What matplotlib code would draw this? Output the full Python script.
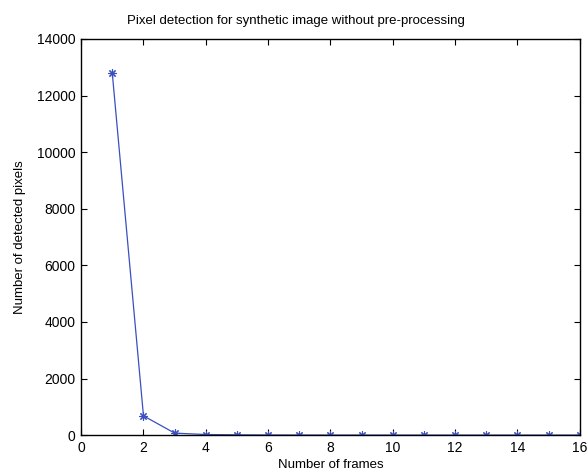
import matplotlib
matplotlib.use("Agg")
import matplotlib.pyplot as plt

frames = list(range(1, 17))
detected = [12780, 680, 70, 20, 10, 5, 3, 2, 2, 1, 1, 1, 1, 1, 1, 1]
x_ticks = [0, 2, 4, 6, 8, 10, 12, 14, 16]
y_ticks = [0, 2000, 4000, 6000, 8000, 10000, 12000, 14000]

plt.rcParams['font.family'] = ['Liberation Sans', 'DejaVu Sans']

fig = plt.figure(figsize=(5.88, 4.75), dpi=100)
ax = fig.add_axes([0.138, 0.084, 0.848, 0.834])

ax.plot(frames, detected, color='#3a4fc0', linewidth=0.9,
        marker=(8, 2, 0), markersize=6, markeredgewidth=0.8)

ax.set_xlim(0, 16)
ax.set_ylim(0, 14000)
ax.set_xticks(x_ticks)
ax.set_yticks(y_ticks)
ax.tick_params(direction='in', length=4, top=True, right=True, labelsize=10, pad=4)
for s in ax.spines.values():
    s.set_linewidth(1.0)

ax.set_title('Pixel detection for synthetic image without pre-processing',
             fontsize=9.5, pad=11, x=0.43)
ax.set_xlabel('Number of frames', fontsize=9.5, labelpad=3)
ax.set_ylabel('Number of detected pixels', fontsize=9.5, labelpad=8)

fig.savefig('out.png', dpi=100)
